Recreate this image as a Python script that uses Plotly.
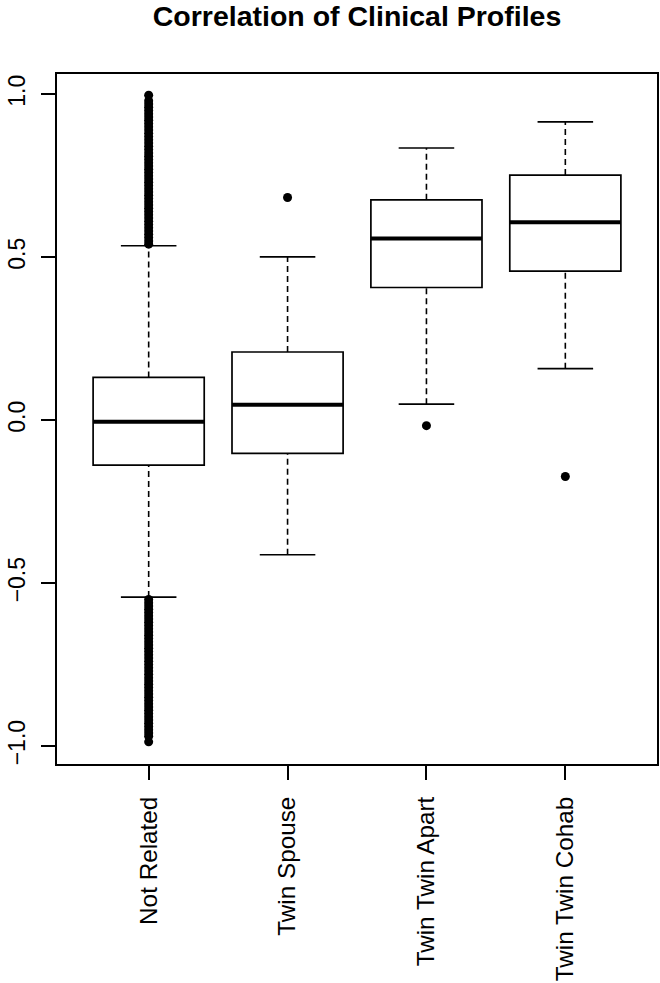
import plotly.graph_objects as go

# ---- data ----
categories = ["Not Related", "Twin Spouse", "Twin Twin Apart", "Twin Twin Cohab"]
q1 = [-0.138, -0.102, 0.407, 0.457]
median = [-0.005, 0.047, 0.557, 0.607]
q3 = [0.131, 0.209, 0.676, 0.752]
whisker_low = [-0.543, -0.413, 0.049, 0.158]
whisker_high = [0.535, 0.501, 0.835, 0.915]

# outliers (Not Related has a dense band of outliers on both sides)
outliers_not_related = [
    0.54, 0.55, 0.56, 0.57, 0.58, 0.59, 0.60, 0.61, 0.62, 0.63, 0.64, 0.65,
    0.66, 0.67, 0.68, 0.69, 0.70, 0.71, 0.72, 0.73, 0.74, 0.75, 0.76, 0.77,
    0.78, 0.79, 0.80, 0.81, 0.82, 0.83, 0.84, 0.85, 0.86, 0.87, 0.88, 0.89,
    0.90, 0.91, 0.92, 0.93, 0.94, 0.95, 0.96, 0.97, 0.98, 0.997,
    -0.55, -0.56, -0.57, -0.58, -0.59, -0.60, -0.61, -0.62, -0.63, -0.64,
    -0.65, -0.66, -0.67, -0.68, -0.69, -0.70, -0.71, -0.72, -0.73, -0.74,
    -0.75, -0.76, -0.77, -0.78, -0.79, -0.80, -0.81, -0.82, -0.83, -0.84,
    -0.85, -0.86, -0.87, -0.88, -0.89, -0.90, -0.91, -0.92, -0.93, -0.94,
    -0.95, -0.96, -0.97, -0.987,
]
outliers_twin_spouse = [0.683]
outliers_twin_apart = [-0.017]
outliers_twin_cohab = [-0.173]
outliers = [outliers_not_related, outliers_twin_spouse, outliers_twin_apart, outliers_twin_cohab]

y_tickvals = [-1.0, -0.5, 0.0, 0.5, 1.0]
y_ticktext = ["\u22121.0", "\u22120.5", "0.0", "0.5", "1.0"]

# ---- styling ----
BOX_W = 0.8
CAP_HALF = 0.2
FONT = "Liberation Sans, Arial, Helvetica, sans-serif"
pos = list(range(1, len(categories) + 1))

fig = go.Figure()

# box bodies (whiskers drawn separately so they can be dashed)
fig.add_trace(go.Box(
    x=pos, q1=q1, median=median, q3=q3,
    lowerfence=q1, upperfence=q3,
    width=BOX_W, whiskerwidth=0,
    fillcolor="white", line=dict(color="black", width=1.7),
    boxpoints=False, showlegend=False, hoverinfo="skip",
))

# dashed whiskers
wx, wy = [], []
for p, a, b, c, d in zip(pos, whisker_low, q1, q3, whisker_high):
    wx += [p, p, None, p, p, None]
    wy += [a, b, None, c, d, None]
fig.add_trace(go.Scatter(x=wx, y=wy, mode="lines",
                         line=dict(color="black", width=1.6, dash="6px,4px"),
                         showlegend=False, hoverinfo="skip"))

# whisker caps
cx, cy = [], []
for p, a, d in zip(pos, whisker_low, whisker_high):
    cx += [p - CAP_HALF, p + CAP_HALF, None, p - CAP_HALF, p + CAP_HALF, None]
    cy += [a, a, None, d, d, None]
fig.add_trace(go.Scatter(x=cx, y=cy, mode="lines",
                         line=dict(color="black", width=1.7),
                         showlegend=False, hoverinfo="skip"))

# thick medians
mx, my = [], []
for p, m in zip(pos, median):
    mx += [p - BOX_W / 2, p + BOX_W / 2, None]
    my += [m, m, None]
fig.add_trace(go.Scatter(x=mx, y=my, mode="lines",
                         line=dict(color="black", width=4),
                         showlegend=False, hoverinfo="skip"))

# outliers
for p, vals in zip(pos, outliers):
    fig.add_trace(go.Scatter(x=[p] * len(vals), y=vals, mode="markers",
                             marker=dict(color="black", size=9),
                             showlegend=False, hoverinfo="skip"))

fig.update_layout(
    width=660, height=983,
    margin=dict(l=57, r=3, t=74, b=219, autoexpand=False),
    paper_bgcolor="white", plot_bgcolor="white",
    font=dict(family=FONT, color="black"),
    title=dict(text="<b>Correlation of Clinical Profiles</b>",
               font=dict(family=FONT, size=28.5, color="black"),
               x=0.5, xref="paper", xanchor="center",
               y=1 - 16 / 983, yref="container", yanchor="middle"),
    boxmode="overlay",
)
fig.update_xaxes(
    range=[0.34, 4.66], tickvals=pos, ticktext=categories, tickangle=-90,
    ticks="outside", ticklen=14, tickwidth=1.6, tickcolor="black",
    showline=True, linecolor="black", linewidth=1.8, mirror=True,
    showgrid=False, zeroline=False, automargin=False,
    tickfont=dict(family=FONT, size=24.3, color="black"),
    ticklabelstandoff=7,
)
fig.update_yaxes(
    range=[-1.055, 1.062], tickvals=y_tickvals, ticktext=y_ticktext, tickangle=-90,
    ticks="outside", ticklen=14, tickwidth=1.6, tickcolor="black",
    showline=True, linecolor="black", linewidth=1.8, mirror=True,
    showgrid=False, zeroline=False, automargin=False,
    tickfont=dict(family=FONT, size=23, color="black"),
    ticklabelstandoff=7,
)

fig.write_html(
    "out.html",
    config={"displayModeBar": False},
    post_script="document.body.style.margin='0';document.body.style.overflow='hidden';",
)
